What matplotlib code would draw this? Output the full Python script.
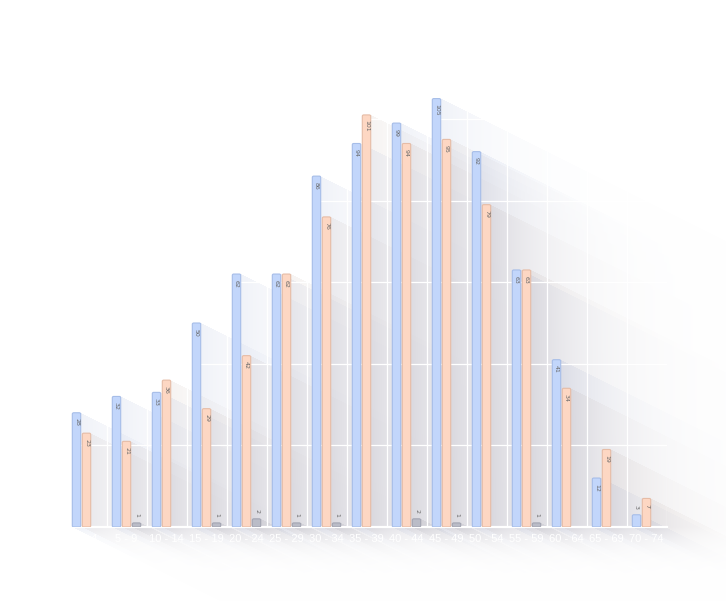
import numpy as np
import matplotlib.pyplot as plt
from matplotlib.patches import FancyBboxPatch

age_groups = ['0 - 4', '5 - 9', '10 - 14', '15 - 19', '20 - 24', '25 - 29', '30 - 34',
              '35 - 39', '40 - 44', '45 - 49', '50 - 54', '55 - 59', '60 - 64',
              '65 - 69', '70 - 74']
series_blue = [28, 32, 33, 50, 62, 62, 86, 94, 99, 105, 92, 63, 41, 12, 3]
series_orange = [23, 21, 36, 29, 42, 62, 76, 101, 94, 95, 79, 63, 34, 19, 7]
series_gray = [0, 1, 0, 1, 2, 1, 1, 0, 2, 1, 0, 1, 0, 0, 0]

W, H = 726, 601
fig = plt.figure(figsize=(W / 100, H / 100), dpi=100)
fig.patch.set_facecolor('white')

# main axes placed in pixels so the shadow image lines up
ax = fig.add_axes([66.5 / W, 74 / H, 600 / W, 489.6 / H], zorder=2)
ax.set_facecolor('none')
ax.set_xlim(-0.5, len(age_groups) - 0.5)
ax.set_ylim(0, 120)

styles = [
    (series_blue, -0.25, '#c2d6fb', '#a6bde8', (0.55, 0.62, 0.80)),
    (series_orange, 0.0, '#fdd7c3', '#e6bca6', (0.74, 0.66, 0.62)),
    (series_gray, 0.25, '#babcc7', '#a3a5b2', (0.55, 0.55, 0.60)),
]
bw = 0.21
x = np.arange(len(age_groups))

# ---- long diagonal shadows, computed in pixel space ----
px = np.arange(W) + 0.5
py = np.arange(H) + 0.5
PX, PY = np.meshgrid(px, py)
canvas = np.ones((H, W, 3))
a0, tau = 0.13, 55.0
base_y = ax.transData.transform((0, 0))[1]
below = np.where(PY < base_y, np.exp(-(base_y - PY) / 20.0), 1.0)
for vals, off, fc, ec, sc in styles:
    for xi, v in zip(x, vals):
        if v <= 0:
            continue
        (x0, yb), (x1, yt) = ax.transData.transform([(xi + off - bw / 2, 0), (xi + off + bw / 2, v)])
        tmin = np.maximum.reduce([np.zeros_like(PX), PX - x1, 2 * (yb - PY)])
        tmax = np.minimum(PX - x0, 2 * (yt - PY))
        mask = tmin <= tmax
        a = np.where(mask, a0 * np.exp(-tmin / tau), 0.0) * below
        for k in range(3):
            canvas[:, :, k] *= 1 - a * (1 - sc[k])

bg = fig.add_axes([0, 0, 1, 1], zorder=0)
bg.imshow(canvas, origin='lower', extent=[0, W, 0, H], aspect='auto', interpolation='bilinear')
bg.set_xlim(0, W)
bg.set_ylim(0, H)
bg.axis('off')

# grid
for gy in [20, 40, 60, 80, 100, 120]:
    ax.axhline(gy, color='white', lw=0.9, zorder=1)
for gx in np.arange(-0.5, len(age_groups) + 0.5, 1.0):
    ax.axvline(gx, color='white', lw=0.9, zorder=1)
ax.axhline(0, color='white', lw=1.6, zorder=1, clip_on=False)

# bars with rounded tops
for vals, off, fc, ec, sc in styles:
    bars = ax.bar(x + off, vals, width=bw)
    for rect, v in zip(bars, vals):
        rect.remove()
        if v <= 0:
            continue
        bx, by = rect.get_x(), rect.get_y()
        p = FancyBboxPatch((bx, by), rect.get_width(), rect.get_height(),
                           boxstyle='round,pad=0,rounding_size=0.035',
                           mutation_aspect=40 / 4.08,
                           facecolor=fc, edgecolor=ec, lw=0.8, zorder=3)
        ax.add_patch(p)
        hpx = v * 4.08
        if hpx > 20:
            ax.annotate(str(v), (bx + bw / 2, v), xytext=(0, -4), textcoords='offset points',
                        rotation=270, ha='center', va='top', fontsize=4.5,
                        color='#666666', zorder=4)
        else:
            ax.annotate(str(v), (bx + bw / 2, v), xytext=(0, 4), textcoords='offset points',
                        rotation=270, ha='center', va='bottom', fontsize=4.5,
                        color='#666666', zorder=4)

ax.set_xticks(x)
ax.set_xticklabels(age_groups, color='white', fontsize=8, family='Liberation Sans')
ax.tick_params(axis='x', length=0, pad=5)
ax.set_yticks([])
for s in ax.spines.values():
    s.set_visible(False)

fig.savefig('out.png', dpi=100)
